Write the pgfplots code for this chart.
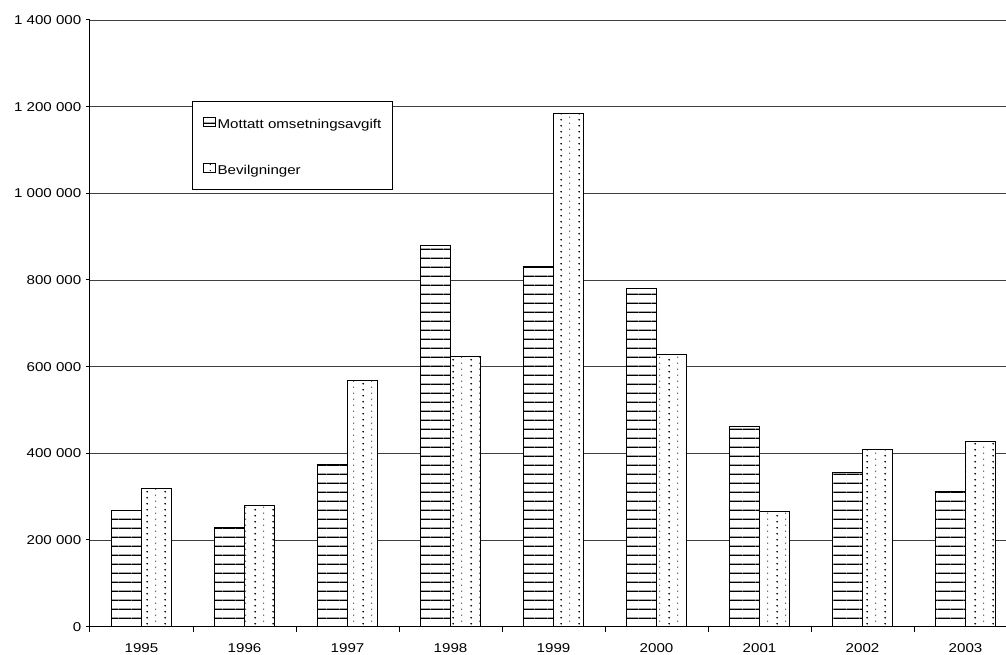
\documentclass[border=0pt]{standalone}
\usepackage{fontspec}
\setmainfont[FakeStretch=1.18]{Liberation Sans}
\usepackage{pgfplots}
\pgfplotsset{compat=1.18}
\usetikzlibrary{patterns.meta}

% horizontal stripes for the first series
\tikzdeclarepattern{
  name=hstripes,
  type=uncolored,
  bounding box={(0pt,0pt) and (10pt,6.75pt)},
  tile size={(10pt,6.75pt)},
  code={\fill (0pt,0pt) rectangle (10pt,1.15pt);}
}
% staggered dots for the second series
\tikzdeclarepattern{
  name=sdots,
  type=uncolored,
  bounding box={(0pt,0pt) and (13.5pt,4.5pt)},
  tile size={(13.5pt,4.5pt)},
  code={
    \fill (2.5pt,1.1pt) circle (0.75pt);
    \fill (9.25pt,3.35pt) circle (0.5pt);
  }
}

\pgfplotstableread{
x mottatt bevilg
0 267000 318000
1 228000 279000
2 375000 568000
3 880000 624000
4 830000 1185000
5 780000 629000
6 461000 265000
7 356000 409000
8 311000 427000
}\data

\begin{document}
\begin{tikzpicture}
\begin{axis}[
  name=ax,
  scale only axis,
  width=687pt, height=455pt,
  ybar=0pt, bar width=22.2pt,
  xmin=-0.5, xmax=8.393,
  ymin=0, ymax=1400000,
  axis lines*=left,
  axis line style={-, black, line width=0.75pt},
  tick align=outside,
  ytick={0,200000,...,1400000},
  scaled y ticks=false,
  yticklabel style={/pgf/number format/assume math mode=true,
    /pgf/number format/1000 sep={\ }, /pgf/number format/fixed},
  xtick={0,...,8},
  xticklabels={1995,1996,1997,1998,1999,2000,2001,2002,2003},
  minor xtick={-0.5,0.5,...,7.5},
  major x tick style={draw=none},
  minor x tick style={black, line width=0.75pt},
  minor tick length=3.8pt,
  major tick length=3pt,
  y tick style={black, line width=0.75pt},
  ymajorgrids,
  grid style={black!75, line width=0.6pt},
  ticklabel style={font=\fontsize{9.6pt}{11pt}\selectfont},
  xticklabel style={yshift=-6pt},
  legend cell align=left,
  legend style={at={(0.1117,0.8665)}, anchor=north west,
    draw=black, line width=0.6pt,
    font=\fontsize{9.6pt}{11pt}\selectfont,
    inner xsep=7.5pt, inner ysep=7.25pt, row sep=17.05pt,
    nodes={text height=11.25pt, text depth=2pt, inner xsep=1pt}},
  legend image code/.code={
    \draw[#1, line width=0.7pt] (0pt,-3.2pt) rectangle (9.5pt,3.6pt);},
]
\addplot[draw=black, line width=0.8pt, fill=white,
  postaction={pattern=hstripes, pattern color=black}]
  table[x=x, y=mottatt] {\data};
\addplot[draw=black, line width=0.8pt, fill=white,
  postaction={pattern=sdots, pattern color=black}]
  table[x=x, y=bevilg] {\data};
\legend{Mottatt omsetningsavgift, Bevilgninger}
\end{axis}
\pgfresetboundingbox
\path[use as bounding box] ([shift={(-67.5pt,-21.25pt)}]ax.south west)
  rectangle ([shift={(0pt,15pt)}]ax.north east);
\end{tikzpicture}
\end{document}
